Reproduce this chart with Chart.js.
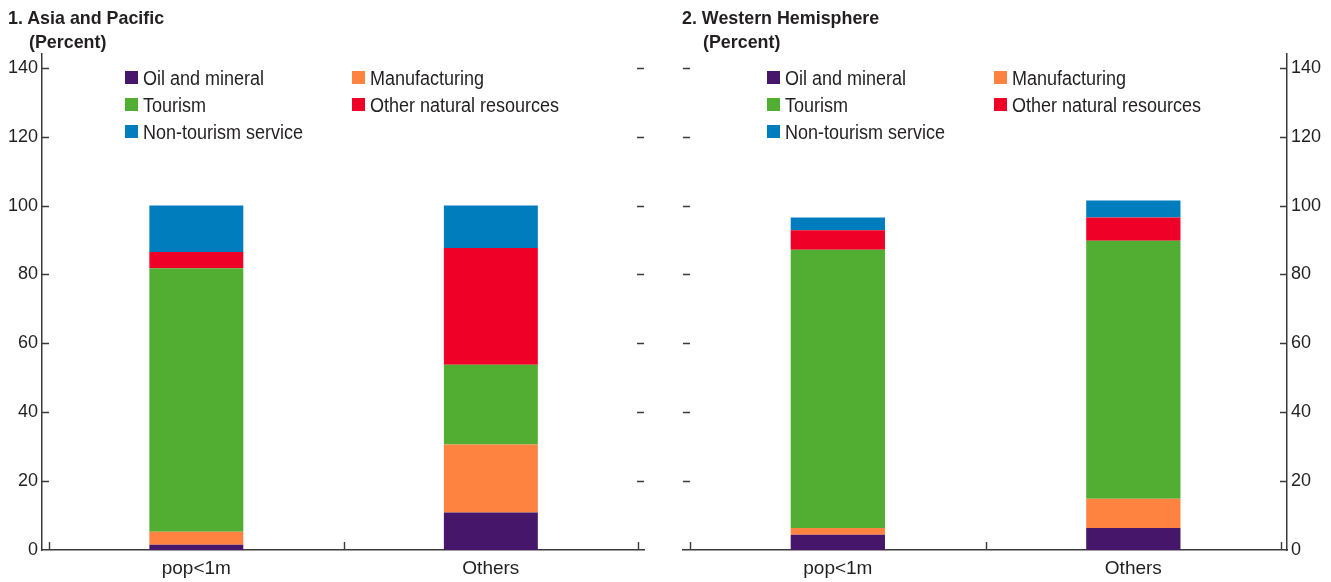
<!DOCTYPE html>
<html><head><meta charset="utf-8">
<script src="https://cdn.jsdelivr.net/npm/chart.js@4.4.0/dist/chart.umd.min.js"></script>
<style>
body{margin:0;width:1331px;height:582px;position:relative;background:#fff;overflow:hidden;
  font-family:"Liberation Sans",Arial,sans-serif;color:#231f20}
.panel{position:absolute;top:0;height:582px}
.ttl{position:absolute;font-weight:bold;font-size:19px;line-height:22px;white-space:nowrap;
  transform:scaleX(0.94);transform-origin:0 0}
.lg{position:absolute;height:24px;white-space:nowrap}
.lg i{position:absolute;left:0;top:5px;width:13px;height:13px}
.lg span{position:absolute;left:18px;top:0;font-size:20px;line-height:24px;
  transform:scaleX(0.9);transform-origin:0 0}
</style>
</head><body>
<div id="p1" class="panel" style="left:0;width:665px"><canvas id="c1" width="665" height="582"></canvas></div>
<div id="p2" class="panel" style="left:665px;width:666px"><canvas id="c2" width="666" height="582"></canvas></div>
<script>
/* categories, series, ticks */
const CATEGORIES = ['pop<1m', 'Others'];
const SERIES = ['Oil and mineral', 'Manufacturing', 'Tourism', 'Other natural resources', 'Non-tourism service'];
const COLORS = ['#46166b', '#ff8340', '#52ae32', '#ef0027', '#007dbd'];
const Y_TICKS = [0, 20, 40, 60, 80, 100, 120, 140];

// 1. Asia and Pacific (percent)
const AP_OIL     = [1.5, 10.9];
const AP_MANUF   = [3.8, 19.7];
const AP_TOURISM = [76.5, 23.2];
const AP_OTHERNR = [4.7, 33.9];
const AP_NONTOUR = [13.5, 12.3];

// 2. Western Hemisphere (percent)
const WH_OIL     = [4.4, 6.4];
const WH_MANUF   = [2.0, 8.5];
const WH_TOURISM = [80.8, 74.9];
const WH_OTHERNR = [5.6, 6.7];
const WH_NONTOUR = [3.7, 5.0];

Chart.defaults.font.family = '"Liberation Sans",Arial,sans-serif';
Chart.defaults.color = '#231f20';

const PANELS = [
  {canvas:'c1', box:'p1', title:'1. Asia and Pacific', side:'left',
   values:[AP_OIL, AP_MANUF, AP_TOURISM, AP_OTHERNR, AP_NONTOUR]},
  {canvas:'c2', box:'p2', title:'2. Western Hemisphere', side:'right',
   values:[WH_OIL, WH_MANUF, WH_TOURISM, WH_OTHERNR, WH_NONTOUR]}
];

// short inner tick marks: both sides of the plot, plus category boundaries
const innerTicks = {
  id:'innerTicks',
  afterDraw(chart){
    const {ctx, chartArea:a, scales:{x, y}} = chart;
    ctx.save();
    ctx.strokeStyle = '#3a3a3a';
    ctx.lineWidth = 1.4;
    ctx.beginPath();
    Y_TICKS.forEach(v=>{
      if (v === 0) return;
      const py = Math.round(y.getPixelForValue(v)) + 0.5;
      ctx.moveTo(a.left, py);  ctx.lineTo(a.left + 7, py);
      ctx.moveTo(a.right - 7, py); ctx.lineTo(a.right, py);
    });
    [-0.5, 0.5, 1.5].forEach(v=>{
      const px = Math.round(x.getPixelForValue(v)) + 0.5;
      ctx.moveTo(px, a.bottom); ctx.lineTo(px, a.bottom - 8);
    });
    ctx.stroke();
    ctx.restore();
  }
};

PANELS.forEach(p=>{
  const left = p.side === 'left';
  new Chart(document.getElementById(p.canvas), {
    type:'bar',
    data:{
      datasets: SERIES.map((s, i)=>({
        label:s,
        data:p.values[i].map((v, j)=>({x:j, y:v})),
        backgroundColor:COLORS[i],
        borderWidth:0,
        barPercentage:0.319,
        categoryPercentage:1
      }))
    },
    options:{
      responsive:false, animation:false,
      layout:{padding:{top:54, bottom:0, left:left?0:18, right:left?21:0}},
      plugins:{legend:{display:false}, tooltip:{enabled:false}},
      scales:{
        x:{type:'linear', stacked:true, min:-0.524, max:1.52, offset:false, bounds:'data',
           grid:{display:false, drawTicks:false, offset:false},
           border:{display:true, color:'#3a3a3a', width:1.5},
           afterBuildTicks:s=>{ s.ticks = CATEGORIES.map((c, i)=>({value:i})); },
           afterFit:s=>{ s.height = 32; },
           ticks:{callback:v=>CATEGORIES[v], font:{size:19}, padding:7, autoSkip:false, maxRotation:0}},
        y:{position:p.side, stacked:true, min:0, max:144,
           grid:{display:false, drawTicks:false},
           border:{display:true, color:'#3a3a3a', width:1.5},
           afterBuildTicks:s=>{ s.ticks = Y_TICKS.map(v=>({value:v})); },
           afterFit:s=>{ s.width = left ? 42 : 44; },
           ticks:{font:{size:18}, padding:4}}
      }
    },
    plugins:[innerTicks]
  });

  // title and legend as text over the chart
  const box = document.getElementById(p.box);
  const tx = left ? 8 : 17;
  box.insertAdjacentHTML('beforeend',
    `<div class="ttl" style="left:${tx}px;top:7px">${p.title}</div>` +
    `<div class="ttl" style="left:${tx+21}px;top:31px">(Percent)</div>`);
  const lx = left ? 125 : 102;
  SERIES.forEach((s, i)=>{
    const col = i % 2, row = Math.floor(i / 2);
    box.insertAdjacentHTML('beforeend',
      `<div class="lg" style="left:${lx + col*227}px;top:${66 + row*27}px"><i style="background:${COLORS[i]}"></i><span>${s}</span></div>`);
  });
});
</script>
</body></html>
